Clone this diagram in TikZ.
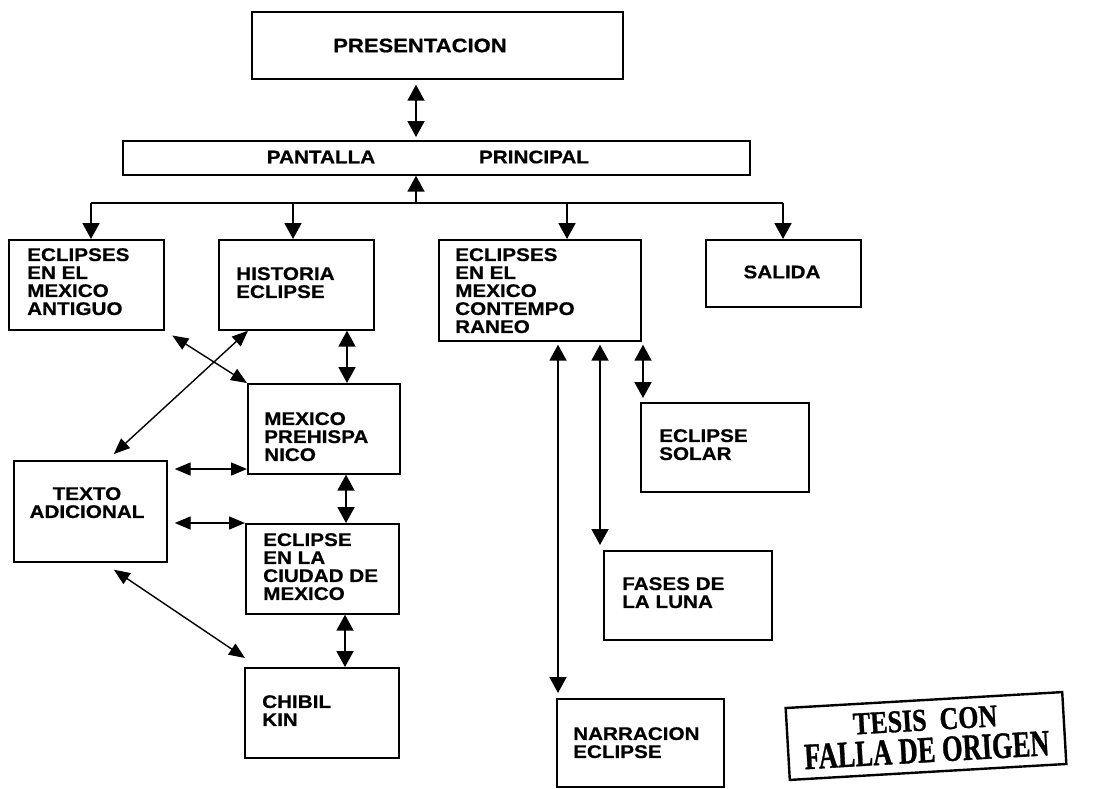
\documentclass[tikz,border=0pt]{standalone}
\usepackage{fontspec}
\setmainfont{Liberation Sans}[FakeStretch=1.13, BoldFeatures={FakeBold=0.6}]
\newfontfamily\stampfont{Liberation Serif}[BoldFeatures={FakeBold=1}]
\usetikzlibrary{arrows.meta}
\begin{document}
\begin{tikzpicture}[x=1pt,y=-1pt,
  box/.style={draw, line width=1.7pt, inner sep=0pt, anchor=north west},
  txt/.style={font=\bfseries\fontsize{18.3}{18}\selectfont, align=left, inner sep=0pt, anchor=north west},
  ctxt/.style={font=\bfseries\fontsize{18.3}{18}\selectfont, align=center, inner sep=0pt},
  dbl/.style={{Triangle[length=16pt,width=17pt]}-{Triangle[length=16pt,width=17pt]}, line width=1.9pt},
  dblt/.style={{Triangle[length=16pt,width=13pt]}-{Triangle[length=16pt,width=13pt]}, line width=1.4pt},
  one/.style={-{Triangle[length=16pt,width=17pt]}, line width=1.9pt},
  stamp/.style={draw, line width=2.4pt, inner sep=0pt, align=center, font=\stampfont\bfseries}
]
\useasboundingbox[fill=white] (0,0) rectangle (1108,788);

% boxes
\node[box, minimum width=371pt, minimum height=67pt] (pres) at (251,11) {};
\node[box, minimum width=627pt, minimum height=34pt] (pant) at (122,140) {};
\node[box, minimum width=155pt, minimum height=90pt] (anti) at (8,239) {};
\node[box, minimum width=155pt, minimum height=90pt] (hist) at (218,239) {};
\node[box, minimum width=202pt, minimum height=101pt] (cont) at (438,239) {};
\node[box, minimum width=155pt, minimum height=67pt] (sal) at (705,239) {};
\node[box, minimum width=152pt, minimum height=90pt] (preh) at (247,383) {};
\node[box, minimum width=153pt, minimum height=90pt] (ciud) at (245,523) {};
\node[box, minimum width=154pt, minimum height=90pt] (chib) at (244,667) {};
\node[box, minimum width=153pt, minimum height=101pt] (texto) at (13,460) {};
\node[box, minimum width=168pt, minimum height=89pt] (solar) at (640,402) {};
\node[box, minimum width=168pt, minimum height=89pt] (fases) at (603,550) {};
\node[box, minimum width=167pt, minimum height=88pt] (narr) at (556,698) {};

% texts
\node[ctxt, font=\bfseries\fontsize{19.5}{19}\selectfont] (tpres) at (420,45.5) {PRESENTACION};
\node[ctxt] (tpant1) at (321,157) {PANTALLA};
\node[ctxt] (tpant2) at (534,157) {PRINCIPAL};
\node[txt] (tanti) at (27,248) {ECLIPSES\\EN EL\\MEXICO\\ANTIGUO};
\node[txt] (thist) at (236,267) {HISTORIA\\ECLIPSE};
\node[txt] (tcont) at (455,248) {ECLIPSES\\EN EL\\MEXICO\\CONTEMPO\\RANEO};
\node[ctxt] (tsal) at (782,272) {SALIDA};
\node[txt] (tpreh) at (264,412) {MEXICO\\PREHISPA\\NICO};
\node[txt] (tciud) at (263,533) {ECLIPSE\\EN LA\\CIUDAD DE\\MEXICO};
\node[txt] (tchib) at (262,695) {CHIBIL\\KIN};
\node[ctxt, anchor=north] (ttexto) at (87,487) {TEXTO\\ADICIONAL};
\node[txt] (tsolar) at (659,429) {ECLIPSE\\SOLAR};
\node[txt] (tfases) at (622,577) {FASES DE\\LA LUNA};
\node[txt] (tnarr) at (573,727) {NARRACION\\ECLIPSE};

% stamp
\node[stamp, rotate=3.3, minimum width=277pt, minimum height=72pt] (stamp) at (926,736)
  {\scalebox{1}[1.22]{\fontsize{26}{26}\selectfont TESIS\ \ CON}\\[6pt]
   \scalebox{1}[1.4]{\fontsize{26.5}{26}\selectfont FALLA\ DE\ ORIGEN}};

% tree connectors
\coordinate (hub) at (416,203);
\coordinate (ja) at (91,203);
\coordinate (jb) at (293,203);
\coordinate (jc) at (567,203);
\coordinate (jd) at (783,203);
\draw[line width=1.9pt] (ja) -- (jd);
\draw[one] (hub) -- (hub |- pant.south);
\draw[one] (ja) -- (ja |- anti.north);
\draw[one] (jb) -- (jb |- hist.north);
\draw[one] (jc) -- (jc |- cont.north);
\draw[one] (jd) -- (jd |- sal.north);
\draw[dbl, shorten <=5pt, shorten >=3pt] (hub |- pres.south) -- (hub |- pant.north);

% vertical double arrows
\coordinate (x347) at (347,0);
\coordinate (x346) at (346,0);
\coordinate (x345) at (345,0);
\coordinate (x558) at (558,0);
\coordinate (x600) at (600,0);
\coordinate (x643) at (643,0);
\draw[dbl] (x347 |- hist.south) -- (x347 |- preh.north);
\draw[dbl] (x346 |- preh.south) -- (x346 |- ciud.north);
\draw[dbl] (x345 |- ciud.south) -- (x345 |- chib.north);
\draw[dbl, shorten <=3pt, shorten >=5pt] (x558 |- cont.south) -- (x558 |- narr.north);
\draw[dbl, shorten <=3pt, shorten >=5pt] (x600 |- cont.south) -- (x600 |- fases.north);
\draw[dbl, shorten <=3pt, shorten >=4pt] (x643 |- cont.south) -- (x643 |- solar.north);

% texto adicional connectors
\coordinate (y469) at (0,469);
\draw[dblt, shorten <=7pt] (y469 -| texto.east) -- (y469 -| preh.west);
\draw[dblt, shorten <=7pt] (texto.east |- ciud.north) -- (ciud.north west);
\draw[dblt, shorten <=9pt] (anti.south east) -- (preh.north west);
\draw[dblt] ([xshift=30pt]hist.south west) -- ([xshift=23.5pt,yshift=6pt]texto.north);
\draw[dblt] ([xshift=23.5pt,yshift=-7pt]texto.south) -- ([xshift=1pt,yshift=9pt]chib.north west);
\end{tikzpicture}
\end{document}
